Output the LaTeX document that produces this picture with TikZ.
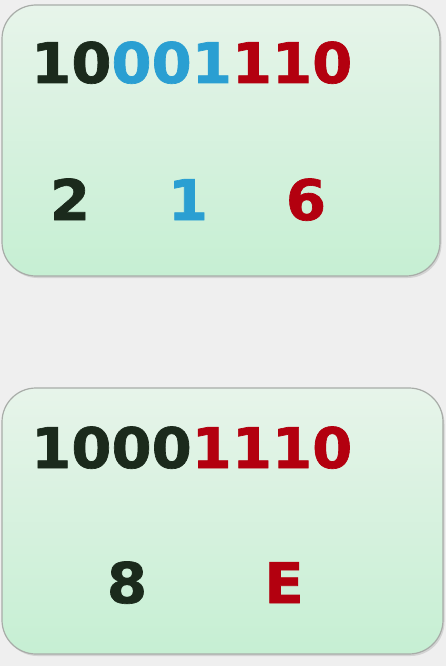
\documentclass[tikz,border=0pt]{standalone}
\usepackage{fontspec}
\setmainfont{DejaVu Sans}
\newfontfamily\digitfont{DejaVu Sans Bold}[FakeStretch=1.03, FakeBold=1.2]
\usetikzlibrary{shadows}
\definecolor{dk}{HTML}{1B2A1C}
\definecolor{bl}{HTML}{2A9FD2}
\definecolor{rd}{HTML}{B3000F}
\definecolor{bg}{HTML}{EFEFEF}
\definecolor{gtop}{HTML}{E7F4EA}
\definecolor{gbot}{HTML}{C6EFD3}
\definecolor{edge}{HTML}{A8ACA8}
\tikzset{
  card/.style={draw=edge, line width=1.2pt, rounded corners=34pt, top color=gtop, bottom color=gbot,
     inner sep=0pt, drop shadow={shadow xshift=1.5pt, shadow yshift=-2pt, opacity=0.25}},
  digits/.style={inner sep=0pt, anchor=base west, font=\digitfont\fontsize{56}{60}\selectfont},
  hexd/.style={inner sep=0pt, anchor=base, font=\digitfont\fontsize{56}{60}\selectfont}
}
\begin{document}
\begin{tikzpicture}[x=1pt,y=-1pt]
\fill[bg] (0,0) rectangle (446,666);
\useasboundingbox (0,0) rectangle (446,666);
\node[card, minimum width=438pt, minimum height=271pt] (top) at (221,140.5) {};
\node[card, minimum width=441pt, minimum height=266pt] (bot) at (222.5,521) {};
\node[digits] (bin1) at (31,83) {\textcolor{dk}{10}\textcolor{bl}{001}\textcolor{rd}{110}};
\node[hexd, text=dk] (h2) at (70,220) {2};
\node[hexd, text=bl] (h1) at (188,220) {1};
\node[hexd, text=rd] (h6) at (306,220) {6};
\node[digits] (bin2) at (31,468) {\textcolor{dk}{1000}\textcolor{rd}{1110}};
\node[hexd, text=dk] (h8) at (127,603) {8};
\node[hexd, text=rd] (hE) at (284,603) {E};
\end{tikzpicture}
\end{document}
